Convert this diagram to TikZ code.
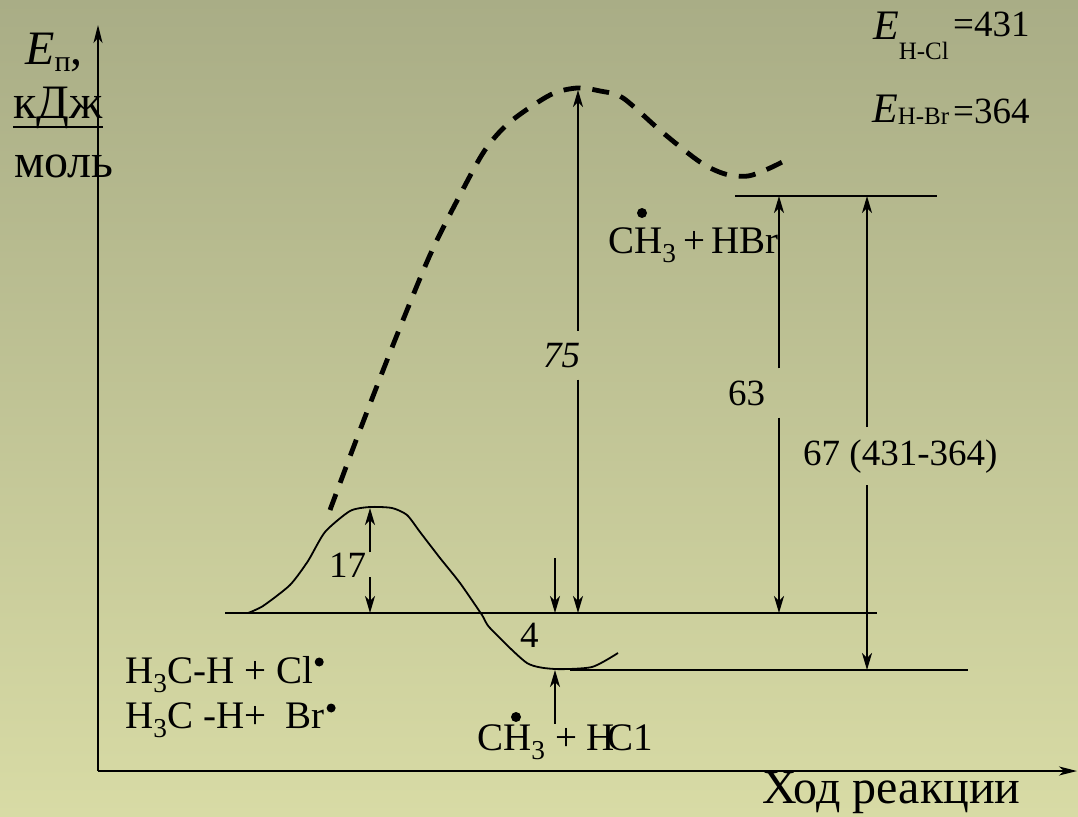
\documentclass[tikz,border=0pt]{standalone}
\usepackage{fontspec}
\setmainfont{Liberation Serif}
\usetikzlibrary{arrows.meta,calc,positioning}
\definecolor{bgtop}{RGB}{169,173,134}
\definecolor{bgbot}{RGB}{216,219,165}
\newcommand\fsAxis{\fontsize{48}{52}\selectfont}
\newcommand\fsChem{\fontsize{39}{43}\selectfont}
\newcommand\fsNum{\fontsize{37}{40}\selectfont}
\newcommand\fsE{\fontsize{42}{46}\selectfont}
\newcommand\fsSub{\fontsize{25}{28}\selectfont}
\newcommand\fsVal{\fontsize{37}{40}\selectfont}

\begin{document}
\begin{tikzpicture}[x=1pt,y=-1pt,
    arr/.style={-{Stealth[length=17pt,width=10pt,inset=5pt]}, line width=1.6pt},
    axis/.style={-{Stealth[length=18pt,width=9pt,inset=5pt]}, line width=1.8pt},
    lvl/.style={line width=2.6pt},
    lbl/.style={inner sep=0pt, anchor=base west},
    gap/.style={lbl, inner ysep=12pt},
  ]
        % Background
        \shade[top color=bgtop, bottom color=bgbot] (0,0) rectangle (1078,816);
        \useasboundingbox (0,0) rectangle (1078,816);
        % Define coordinates
        \coordinate (O) at (98,771);
        \coordinate (Ytop) at (98,25);
        \coordinate (Xend) at (1077,771);
        \coordinate (R1) at (225,613);
        \coordinate (R2) at (877,613);
        \coordinate (P1) at (570,670);
        \coordinate (P2) at (968,670);
        \coordinate (B1) at (735,196);
        \coordinate (B2) at (937,196);
        \coordinate (TCl) at (370,508);
        \coordinate (TBr) at (578,90);
        \coordinate (h63) at (779,196);
        \coordinate (h67) at (867,196);
        \coordinate (d4) at (555,558);
        % Axes
        \draw[axis] (O) -- (Ytop);
        \draw[axis] (O) -- (Xend);
        \node[lbl, font=\fsAxis] (ep) at (25,65) {\textit{E}{\fontsize{30}{32}\selectfont\raisebox{-6pt}{п}},};
        \node[lbl, font=\fsAxis] (kdj) at (13,118) {кДж};
        \draw[line width=2.4pt] ([yshift=-9pt]kdj.base west) -- ([yshift=-9pt]kdj.base east);
        \node[lbl, font=\fsAxis] (mol) at (14,177) {моль};
        \node[lbl, font=\fsAxis] (xlab) at (762,803) {Ход реакции};
        % Bond energies
        \node[lbl] (ecl) at (873,40) {\fsE\textit{E}\raisebox{-20pt}{\fsSub H-Cl}};
        \node[lbl, font=\fsVal] (vcl) at (953,37) {=431};
        \node[lbl] (ebr) at (872,122) {\fsE\textit{E}\raisebox{-2pt}{\fsSub H-Br}};
        \node[lbl, font=\fsVal] (vbr) at (953,123) {=364};
        % Energy levels
        \draw[lvl] (R1) -- (R2);
        \draw[lvl] (P1) -- (P2);
        \draw[lvl] (B1) -- (B2);
        % Cl path
        \draw[line width=1.8pt, line join=round] plot[smooth, tension=0.4] coordinates {
          (248,613) (263,606) (290,585) (308,561) (325,532) (350,511) (370,507)
          (392,508) (407,515) (420,532) (440,558) (460,583) (482,615) (490,628)
          (527,663) (555,669) (592,667) (618,653)};
        % Br path
        \draw[line width=4.8pt, dash pattern=on 17pt off 12pt] plot[smooth, tension=0.5] coordinates {
          (330,510) (360,430) (395,340) (430,255) (460,195) (485,150) (510,122)
          (550,95) (577,88) (600,91) (623,98) (662,132) (700,162) (725,174)
          (748,176) (770,168) (792,157)};
        % Labels
        \node[lbl, font=\fsChem] (hbr) at (608,253) {CH\textsubscript{3}\,+\,HBr};
        \fill ([shift={(34pt,40pt)}]hbr.base west) circle (5pt);
        \node[lbl, font=\fsChem] (hcl) at (477,750) {CH\textsubscript{3} + H\kern-0.2em C1};
        \fill ([shift={(39pt,33pt)}]hcl.base west) circle (5pt);
        \node[lbl, font=\fsChem] (cl) at (125,683) {H\textsubscript{3}C-H + Cl};
        \fill ([shift={(6pt,21pt)}]cl.base east) circle (4.5pt);
        \node[lbl, font=\fsChem] (br) at (125,728) {H\textsubscript{3}C -H+\ \ Br};
        \fill ([shift={(6pt,20pt)}]br.base east) circle (4.5pt);
        % Energy differences
        \node[lbl, font=\fsNum] (n17) at (329,577) {17};
        \draw[arr] (TCl |- n17.north) -- (TCl);
        \draw[arr] (TCl |- n17.base) -- (TCl |- R1);
        \node[gap, font=\fsNum\itshape] (n75) at (543,367) {75};
        \draw[arr] (TBr |- n75.north) -- (TBr);
        \draw[arr] (TBr |- n75.south) -- (TBr |- R1);
        \node[lbl, font=\fsNum] (n4) at (520,647) {4};
        \draw[arr] (d4) -- (d4 |- R1);
        \draw[arr] (d4 |- hcl.north) -- (d4 |- P1);
        \node[gap, font=\fsNum] (n63) at (728,405) {63};
        \draw[arr] (h63 |- n63.north) -- (h63);
        \draw[arr] (h63 |- n63.south) -- (h63 |- R1);
        \node[gap, font=\fsNum] (n67) at (803,465) {67 (431-364)};
        \draw[arr] (h67 |- n67.north) -- (h67);
        \draw[arr] (h67 |- n67.south) -- (h67 |- P1);
      \end{tikzpicture}
\end{document}
